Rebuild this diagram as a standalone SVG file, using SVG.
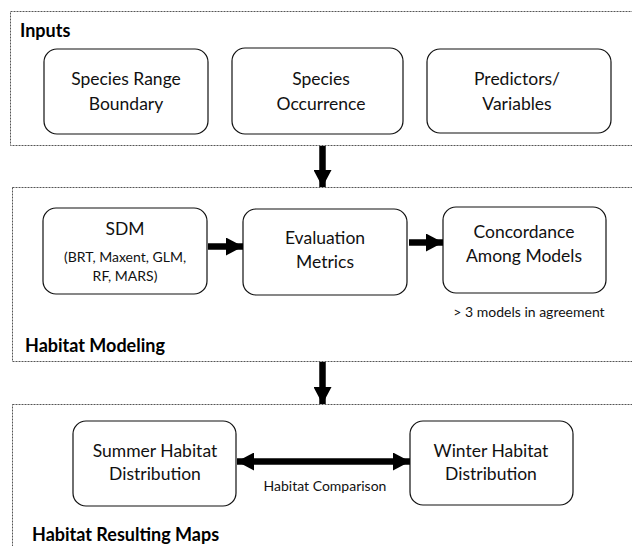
<svg xmlns="http://www.w3.org/2000/svg" width="632" height="546" viewBox="0 0 632 546">
<style>
.grp{fill:none;stroke:#555;stroke-width:1;stroke-dasharray:2 1}
.node{fill:#fff;stroke:#111;stroke-width:1.2}
.t{font-family:Lato,"Liberation Sans",sans-serif;font-size:17.5px;fill:#111;text-anchor:middle}
.s{font-family:Lato,"Liberation Sans",sans-serif;font-size:14px;fill:#111;text-anchor:middle}
.h{font-family:Lato,"Liberation Sans",sans-serif;font-size:18px;font-weight:bold;fill:#000}
.c{stroke:#000;stroke-width:6.5;fill:none}
</style>
<defs>
<marker id="ah" markerUnits="userSpaceOnUse" markerWidth="17" markerHeight="18" refX="17" refY="9" orient="auto-start-reverse" viewBox="0 0 17 18">
<path d="M0,0 L17,9 L0,18 Z" fill="#000"/>
</marker>
</defs>
<rect width="632" height="546" fill="#fff"/>
<g id="inputs">
<rect class="grp" x="10.5" y="11.5" width="640" height="134"/>
<text class="h" x="20" y="37">Inputs</text>
</g>
<g id="range">
<rect class="node" x="44" y="49" width="164" height="85" rx="13"/>
<text class="t" x="126" y="85">Species Range</text>
<text class="t" x="126" y="110">Boundary</text>
</g>
<g id="occurrence">
<rect class="node" x="232" y="48" width="171" height="86" rx="13"/>
<text class="t" x="321" y="85">Species</text>
<text class="t" x="321" y="110">Occurrence</text>
</g>
<g id="predictors">
<rect class="node" x="427" y="49" width="184" height="84" rx="13"/>
<text class="t" x="517" y="85">Predictors/</text>
<text class="t" x="517" y="110">Variables</text>
</g>
<g id="modeling">
<rect class="grp" x="12.5" y="187.5" width="640" height="174"/>
<text class="h" x="25" y="352">Habitat Modeling</text>
<text class="s" x="529" y="317">&gt; 3 models in agreement</text>
</g>
<g id="sdm">
<rect class="node" x="43" y="208" width="164" height="86" rx="13"/>
<text class="t" x="125" y="235">SDM</text>
<text class="s" x="125" y="262">(BRT, Maxent, GLM,</text>
<text class="s" x="125" y="281">RF, MARS)</text>
</g>
<g id="evaluation">
<rect class="node" x="243" y="209" width="164" height="86" rx="13"/>
<text class="t" x="325" y="244">Evaluation</text>
<text class="t" x="325" y="268">Metrics</text>
</g>
<g id="concordance">
<rect class="node" x="443" y="207" width="163" height="86" rx="13"/>
<text class="t" x="524" y="238">Concordance</text>
<text class="t" x="524" y="262">Among Models</text>
</g>
<g id="maps">
<rect class="grp" x="12.5" y="404.5" width="640" height="160"/>
<text class="h" x="32" y="541">Habitat Resulting Maps</text>
<text class="s" x="325" y="491">Habitat Comparison</text>
</g>
<g id="summer">
<rect class="node" x="73" y="421" width="163" height="85" rx="13"/>
<text class="t" x="155" y="457">Summer Habitat</text>
<text class="t" x="155" y="480">Distribution</text>
</g>
<g id="winter">
<rect class="node" x="410" y="421" width="163" height="84" rx="13"/>
<text class="t" x="491" y="457">Winter Habitat</text>
<text class="t" x="491" y="480">Distribution</text>
</g>
<g id="connectors">
<line class="c" x1="322.5" y1="146" x2="322.5" y2="187" marker-end="url(#ah)"/>
<line class="c" x1="322.5" y1="362" x2="322.5" y2="404" marker-end="url(#ah)"/>
<line class="c" x1="208" y1="246.5" x2="243" y2="246.5" marker-end="url(#ah)"/>
<line class="c" x1="409" y1="242.5" x2="443" y2="242.5" marker-end="url(#ah)"/>
<line class="c" x1="237" y1="461.5" x2="410" y2="461.5" marker-start="url(#ah)" marker-end="url(#ah)"/>
</g>
</svg>
